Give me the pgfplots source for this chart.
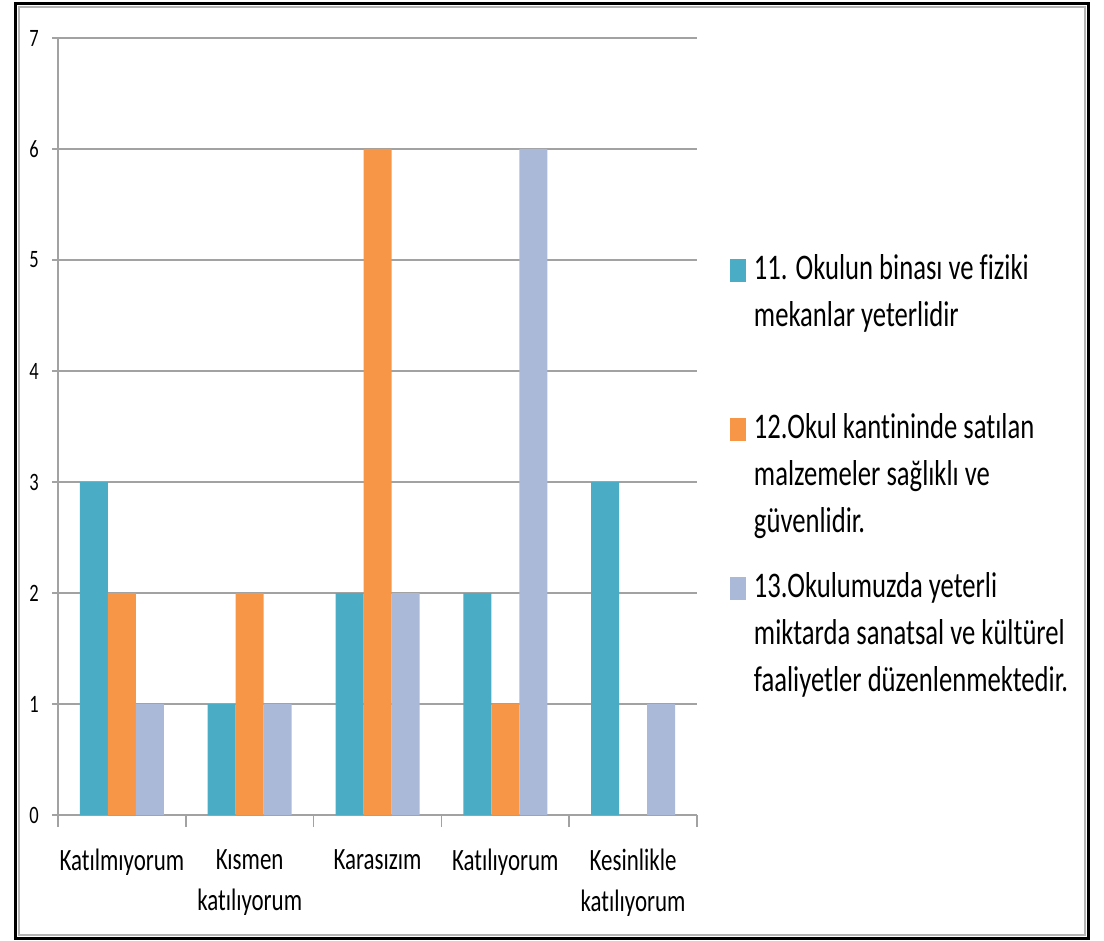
\documentclass[border=0pt]{standalone}
\usepackage{fontspec}
\setmainfont{Carlito}[FakeStretch=0.74, Ligatures={NoCommon}]
\usepackage{pgfplots}
\pgfplotsset{compat=1.18}
\definecolor{BarTeal}{HTML}{4BACC6}
\definecolor{BarOrange}{HTML}{F79646}
\definecolor{BarLilac}{HTML}{AAB9D8}
\definecolor{GridGray}{HTML}{A2A2A2}
\definecolor{FrameGray}{HTML}{B4B4B4}
\newcommand\catfont{\fontsize{31bp}{41bp}\selectfont}
\newcommand\tickfont{\fontsize{25bp}{30bp}\selectfont}
\newcommand\legfont{\fontsize{36bp}{47bp}\selectfont}
\pgfplotsset{
  mybar/.style={fill=#1, draw=none,
    legend image code/.code={\fill[fill=#1] (0bp,-2bp) rectangle (16bp,21bp);}}
}

\begin{document}
\begin{tikzpicture}
\useasboundingbox (-58bp,-126bp) rectangle (1046bp,815bp);
\begin{axis}[
  at={(0,0)}, anchor=south west,
  scale only axis, width=639bp, height=777bp,
  ybar=0pt, bar width=28bp,
  xmin=-0.5, xmax=4.5, ymin=0, ymax=7,
  ytick={0,...,7},
  xtick={0,...,4},
  xticklabels={Katılmıyorum, Kısmen\\katılıyorum, Karasızım, Katılıyorum, Kesinlikle\\katılıyorum},
  minor xtick={-0.5,0.5,...,4.5},
  axis lines*=left,
  axis line style={GridGray, line width=1.5bp, -},
  tick align=outside,
  major tick length=6bp, minor tick length=12bp,
  major x tick style={draw=none},
  minor x tick style={GridGray, line width=1.5bp},
  y tick style={GridGray, line width=1.5bp},
  ymajorgrids, grid style={GridGray, line width=1.5bp},
  /pgf/number format/assume math mode=true,
  yticklabel style={font=\tickfont, inner sep=0pt, text=black, xshift=-13bp},
  xticklabel style={font=\catfont, align=center, inner sep=0pt, text=black, yshift=-28bp},
  legend style={draw=none, fill=none, inner sep=0pt, outer sep=0pt,
    at={(1.0516,0.7335)}, anchor=north west,
    column sep=6bp, row sep=120.5bp, font=\legfont,
    cells={anchor=base west, inner sep=0pt}},
]
\addplot[mybar=BarTeal] coordinates {(0,3) (1,1) (2,2) (3,2) (4,3)};
\addlegendentry{\parbox[t]{340bp}{\strut 11. Okulun binası ve fiziki\\\strut mekanlar yeterlidir}}
\addplot[mybar=BarOrange] coordinates {(0,2) (1,2) (2,6) (3,1) (4,0)};
\addlegendentry{\parbox[t]{340bp}{\strut 12.Okul kantininde satılan\\\strut malzemeler sağlıklı ve\\\strut güvenlidir.}}
\addplot[mybar=BarLilac] coordinates {(0,1) (1,1) (2,2) (3,6) (4,1)};
\addlegendentry{\parbox[t]{340bp}{\strut 13.Okulumuzda yeterli\\\strut miktarda sanatsal ve kültürel\\\strut faaliyetler düzenlenmektedir.}}
\end{axis}
\draw[FrameGray, line width=2bp] (-38.5bp,807.5bp) rectangle (1027bp,-120bp);
\draw[black, line width=3bp] (-42bp,811bp) rectangle (1030bp,-123bp);
\end{tikzpicture}
\end{document}
